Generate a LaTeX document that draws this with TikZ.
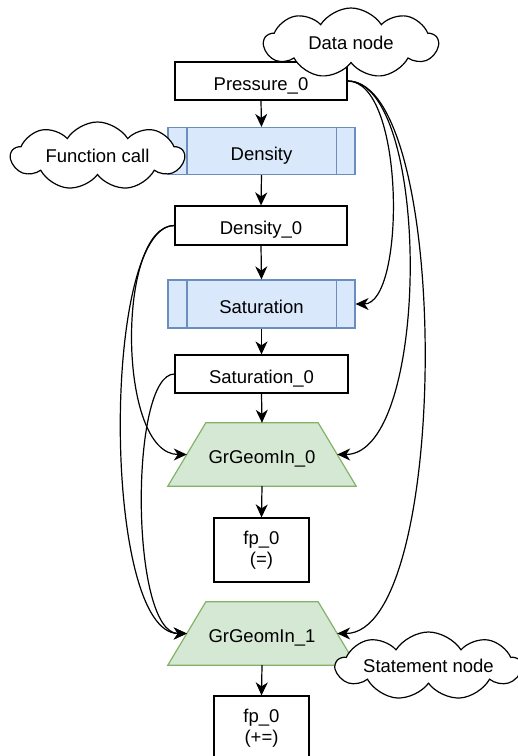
\documentclass[tikz,border=0pt]{standalone}
\usepackage{fontspec}
\setmainfont{Liberation Sans}
\usetikzlibrary{arrows.meta,shapes.symbols,calc}
\definecolor{callfill}{HTML}{DAE8FC}
\definecolor{calldraw}{HTML}{6C8EBF}
\definecolor{stmtfill}{HTML}{D5E8D4}
\definecolor{stmtdraw}{HTML}{82B366}
\pgfdeclarelayer{background}
\pgfsetlayers{background,main}
\begin{document}
\begin{tikzpicture}[x=1pt,y=-1pt,
  every node/.style={font=\fontsize{18.5}{21.5}\selectfont},
  oneline/.style={text height=18pt, text depth=0pt},
  datanode/.style={draw=black, fill=white, line width=1.2pt, rectangle, inner sep=0pt, align=center},
  callnode/.style={draw=calldraw, fill=callfill, line width=1.2pt, rectangle, inner sep=0pt,
    minimum width=187pt, minimum height=47pt, oneline},
  stmtnode/.style={rectangle, inner sep=0pt, minimum width=188pt, minimum height=63pt, oneline},
  stmtshape/.style={draw=stmtdraw, fill=stmtfill, line width=1.2pt, line join=miter},
  note/.style={cloud, cloud puffs=9, cloud puff arc=115, cloud ignores aspect,
    draw=black, fill=white, line width=1.2pt, inner sep=0pt},
  flow/.style={draw=black, line width=1.2pt, -{Stealth[length=13pt,width=12pt,inset=4pt]}},
  callbar/.style={draw=calldraw, line width=1.2pt}
]
\useasboundingbox (0,0) rectangle (518,756);
\clip (0,0) rectangle (518,756);

% main column
\node[datanode, oneline, minimum width=172pt, minimum height=38pt] (p0) at (261,81) {Pressure\_0};
\node[callnode] (den) at (261.5,151) {Density};
\node[datanode, oneline, minimum width=172pt, minimum height=39pt] (d0) at (261,225.5) {Density\_0};
\node[callnode, minimum height=48pt] (sat) at (261.5,304) {Saturation};
\node[datanode, oneline, minimum width=173pt, minimum height=38pt] (s0) at (261.5,374) {Saturation\_0};
\node[stmtnode] (g0) at (262,454.5) {GrGeomIn\_0};
\node[datanode, minimum width=95pt, minimum height=64pt] (f0) at (261.5,550) {fp\_0\\(=)};
\node[stmtnode] (g1) at (262,633.5) {GrGeomIn\_1};
\node[datanode, minimum width=95pt, minimum height=64pt] (f1) at (261.5,728) {fp\_0\\(+=)};

% trapezoid outlines of the statement nodes, with the midpoints of their slanted sides
\begin{pgfonlayer}{background}
\foreach \n in {g0,g1}{
  \path[stmtshape] (\n.south west) -- ($(\n.north west)+(38,0)$) -- ($(\n.north east)+(-38,0)$)
    -- (\n.south east) -- cycle;
}
\end{pgfonlayer}
\foreach \n in {g0,g1}{
  \coordinate (\n-l) at ($(\n.west)+(19,0)$);
  \coordinate (\n-r) at ($(\n.east)+(-19,0)$);
}

% side bars of the function-call boxes
\foreach \n in {den,sat}{
  \draw[callbar] ($(\n.north west)+(19.5,0)$) -- ($(\n.south west)+(19.5,0)$);
  \draw[callbar] ($(\n.north east)+(-19.5,0)$) -- ($(\n.south east)+(-19.5,0)$);
}

% straight flow
\draw[flow] (p0.south) -- (den.north);
\draw[flow] (den.south) -- (d0.north);
\draw[flow] (d0.south) -- (sat.north);
\draw[flow] (sat.south) -- (s0.north);
\draw[flow] (s0.south) -- (g0.north);
\draw[flow] (g0.south) -- (f0.north);
\draw[flow] (g1.south) -- (f1.north);

% Pressure_0 feeds
\draw[flow] (p0.east) .. controls +(58,0) and +(50,0) .. (sat.east);
\draw[flow] (p0.east) .. controls +(84,0) and +(94,0) .. (g0-r);
\draw[flow] (p0.east) .. controls +(104,0) and +(114,0) .. (g1-r);

% Density_0 and Saturation_0 feeds
\draw[flow] (d0.west) .. controls +(-58,0) and +(-70,0) .. (g0-l);
\draw[flow] (d0.west) .. controls +(-73,0) and +(-85,0) .. (g1-l);
\draw[flow] (s0.west) .. controls +(-45,0) and +(-57,0) .. (g1-l);

% annotations
\node[note, minimum width=174pt, minimum height=70pt] (ndata) at (351,43) {Data node};
\node[note, minimum width=173pt, minimum height=68pt] (ncall) at (97.5,156) {Function call};
\node[note, minimum width=185pt, minimum height=68pt] (nstmt) at (428.5,666) {Statement node};
\end{tikzpicture}
\end{document}
